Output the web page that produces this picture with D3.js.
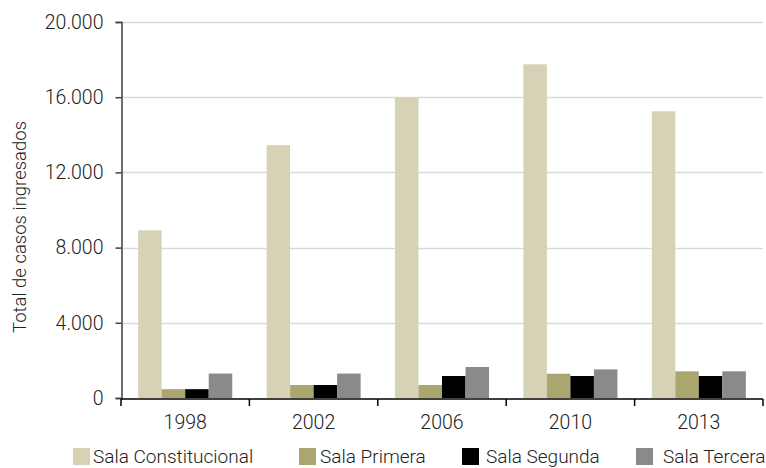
<!DOCTYPE html>
<html>
<head>
<meta charset="utf-8">
<script src="https://cdn.jsdelivr.net/npm/d3@7/dist/d3.min.js"></script>
<style>
  html, body { margin: 0; padding: 0; background: #fff; }
  svg { display: block; }
  text { font-family: Roboto, "Liberation Sans", sans-serif; font-weight: 300; fill: #222; }
</style>
</head>
<body>
<svg id="chart" width="766" height="468"></svg>
<script>
// Casos ingresados por sala, años seleccionados
const years = ["1998", "2002", "2006", "2010", "2013"];
const salas = ["Sala Constitucional", "Sala Primera", "Sala Segunda", "Sala Tercera"];
const constitucional = [8920, 13450, 15960, 17750, 15250];
const primera = [470, 690, 690, 1290, 1420];
const segunda = [470, 690, 1170, 1170, 1170];
const tercera = [1300, 1300, 1650, 1520, 1420];
const yTicks = [0, 4000, 8000, 12000, 16000, 20000];
const colors = ["#d6d2b6", "#aba670", "#000000", "#8a8a8a"];

const seriesValues = [constitucional, primera, segunda, tercera];
const rows = years.map((y, i) => ({ year: y, values: seriesValues.map(s => s[i]) }));

const svg = d3.select("#chart");
const margin = { left: 121, right: 3, top: 22, bottom: 70 };
const W = 766, H = 468;

const x = d3.scaleBand().domain(years).range([margin.left, W - margin.right]).paddingInner(0).paddingOuter(0);
const xInner = d3.scaleBand().domain(d3.range(salas.length)).range([0, x.bandwidth()]).paddingOuter(0.73).paddingInner(0);
const y = d3.scaleLinear().domain([0, 20000]).range([H - margin.bottom, margin.top]);

const fmt = d => d3.format(",")(d).replace(/,/g, ".");

// horizontal gridlines
svg.append("g")
  .selectAll("line")
  .data(yTicks.filter(t => t > 0))
  .join("line")
  .attr("x1", margin.left).attr("x2", W - margin.right)
  .attr("y1", d => Math.round(y(d)) + 0.5).attr("y2", d => Math.round(y(d)) + 0.5)
  .attr("stroke", "#d9d9d9").attr("stroke-width", 1.5);

// bars
svg.append("g")
  .selectAll("g")
  .data(rows)
  .join("g")
  .attr("transform", d => `translate(${x(d.year)},0)`)
  .selectAll("rect")
  .data(d => d.values.map((v, k) => ({ v, k })))
  .join("rect")
  .attr("x", d => xInner(d.k))
  .attr("width", xInner.bandwidth())
  .attr("y", d => y(d.v))
  .attr("height", d => y(0) - y(d.v))
  .attr("fill", d => colors[d.k]);

// y axis
const yAxis = svg.append("g")
  .attr("transform", `translate(${margin.left + 0.5},0)`)
  .call(d3.axisLeft(y).tickValues(yTicks).tickFormat(fmt).tickSize(6).tickPadding(12));
yAxis.select(".domain").attr("stroke", "#404040").attr("stroke-width", 1.5);
yAxis.selectAll(".tick line").attr("stroke", "#404040").attr("stroke-width", 1.5);
yAxis.selectAll(".tick text").style("font-size", "19.5px").attr("fill", "#222");

// x axis with ticks at category boundaries
const xAxisG = svg.append("g").attr("transform", `translate(0,${y(0) + 1})`);
xAxisG.append("line")
  .attr("x1", margin.left).attr("x2", W - margin.right)
  .attr("stroke", "#000").attr("stroke-width", 1.5);
const bounds = years.map(d => x(d)).concat([x(years[years.length - 1]) + x.bandwidth()]);
xAxisG.selectAll("line.b")
  .data(bounds)
  .join("line").attr("class", "b")
  .attr("x1", d => d).attr("x2", d => d)
  .attr("y1", 0).attr("y2", 7)
  .attr("stroke", "#000").attr("stroke-width", 1.5);
xAxisG.selectAll("text")
  .data(years)
  .join("text")
  .attr("x", d => x(d) + x.bandwidth() / 2)
  .attr("y", 30)
  .attr("text-anchor", "middle")
  .style("font-size", "19.5px")
  .text(d => d);

// y axis title
svg.append("text")
  .attr("transform", `translate(26,${(margin.top + H - margin.bottom) / 2 + 17}) rotate(-90)`)
  .attr("text-anchor", "middle")
  .style("font-size", "18.5px")
  .text("Total de casos ingresados");

// legend
const legendX = [73, 299, 462, 636];
const legendGap = [20, 21, 24, 27];
const lg = svg.append("g").attr("transform", "translate(0,447)");
const items = lg.selectAll("g").data(salas).join("g")
  .attr("transform", (d, i) => `translate(${legendX[i]},0)`);
items.append("rect").attr("y", 1).attr("width", 17).attr("height", 17).attr("fill", (d, i) => colors[i]);
items.append("text")
  .attr("x", (d, i) => legendGap[i])
  .attr("y", 16)
  .style("font-size", "19px")
  .text(d => d);
</script>
</body>
</html>
